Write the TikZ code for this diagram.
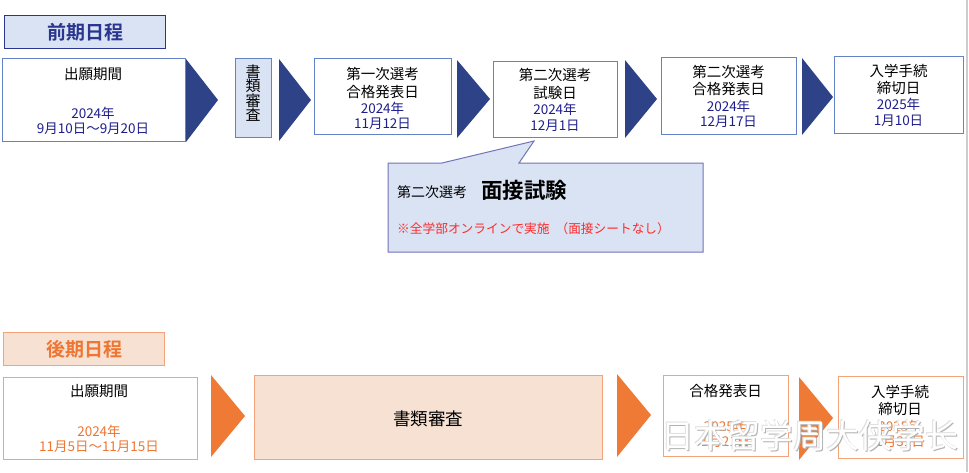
\documentclass[tikz,border=0pt]{standalone}
\usepackage{fontspec}
\setmainfont{Noto Sans CJK JP}[BoldFont={Noto Sans CJK JP Bold}]
\newfontfamily\wmfont{Noto Sans CJK SC}
\definecolor{navytri}{HTML}{2E4287}
\definecolor{boxblue}{HTML}{6383C6}
\definecolor{lightblue}{HTML}{DAE3F3}
\definecolor{hdrnavy}{HTML}{2A3590}
\definecolor{navytext}{HTML}{1E1E8C}
\definecolor{calloutline}{HTML}{7074B8}
\definecolor{redtext}{HTML}{FF2A2A}
\definecolor{orangetri}{HTML}{EF7A36}
\definecolor{boxorange}{HTML}{F4A27A}
\definecolor{peach}{HTML}{F6E1D3}
\definecolor{orangetext}{HTML}{EE7632}
\definecolor{edgegray}{HTML}{CDCDCD}
\tikzset{
  bbox/.style={draw=boxblue, line width=1.1pt, fill=white, inner sep=0pt, anchor=north west},
  obox/.style={draw=boxorange, line width=1.1pt, fill=white, inner sep=0pt, anchor=north west},
  lbl/.style={inner sep=0pt, align=center, font=\fontsize{14.5}{17.5}\selectfont},
  dtn/.style={inner sep=0pt, align=center, text=navytext, font=\fontsize{13.5}{15.5}\selectfont},
  dto/.style={inner sep=0pt, align=center, text=orangetext, font=\fontsize{13.5}{15.5}\selectfont},
  ntri/.style={fill=navytri},
  otri/.style={fill=orangetri},
  wmark/.style={inner sep=0pt, anchor=west, font=\wmfont\fontsize{33}{36}\selectfont},
}
\begin{document}
\begin{tikzpicture}[x=1pt,y=-1pt]
\useasboundingbox (0,0) rectangle (969,472);
\fill[white] (0,0) rectangle (969,472);
\draw[edgegray, line width=1.5pt] (967,0) -- (967,472);

% ===== 前期日程 =====
\node[draw=hdrnavy, line width=1.1pt, fill=lightblue, anchor=north west, minimum width=161pt, minimum height=33pt, inner sep=0pt] (h1) at (4,15) {};
\node[inner sep=0pt, text=hdrnavy, font=\fontsize{19}{22}\selectfont\bfseries] (h1t) at (h1.center) {前期日程};

\node[bbox, minimum width=183pt, minimum height=83pt] (a1) at (2,58) {};
\node[lbl] (a1t) at (93,74) {出願期間};
\node[dtn] (a1d) at (93,121) {2024年\\9月10日～9月20日};
\fill[ntri] (186,59) -- (218,100) -- (186,142) -- cycle;

\node[draw=boxblue, line width=1.1pt, fill=lightblue, anchor=north west, minimum width=36pt, minimum height=79pt, inner sep=0pt] (a2) at (235,58) {};
\node[inner sep=0pt, align=center, font=\fontsize{15}{14.5}\selectfont] (a2t) at (253,93) {書\\類\\審\\査};
\fill[ntri] (279,59) -- (311,100) -- (279,141) -- cycle;

\node[bbox, minimum width=137pt, minimum height=76pt] (a3) at (314,58) {};
\node[lbl] (a3t) at (382.5,83) {第一次選考\\合格発表日};
\node[dtn] (a3d) at (382.5,116) {2024年\\11月12日};
\fill[ntri] (457,60) -- (490,99) -- (457,138) -- cycle;

\node[bbox, minimum width=124pt, minimum height=76pt] (a4) at (493,61) {};
\node[lbl] (a4t) at (555,84) {第二次選考\\試験日};
\node[dtn] (a4d) at (555,117.5) {2024年\\12月1日};
\fill[ntri] (625,60) -- (657,99) -- (625,138) -- cycle;

\node[bbox, minimum width=135pt, minimum height=77pt] (a5) at (661,57) {};
\node[lbl] (a5t) at (728.5,80.5) {第二次選考\\合格発表日};
\node[dtn] (a5d) at (728.5,114) {2024年\\12月17日};
\fill[ntri] (802,58) -- (833,97) -- (802,135) -- cycle;

\node[bbox, minimum width=129pt, minimum height=77pt] (a6) at (834,56) {};
\node[lbl] (a6t) at (898.5,79.5) {入学手続\\締切日};
\node[dtn] (a6d) at (898.5,112.5) {2025年\\1月10日};

% callout
\coordinate (ctip) at (534,141);
\filldraw[fill=lightblue, draw=calloutline, line width=1pt]
  (388,163) -- (442,163) -- (ctip) -- (519,163) -- (703,163) -- (703,252) -- (388,252) -- cycle;
\node[inner sep=0pt, anchor=west, font=\fontsize{14}{16}\selectfont] (c1) at (397,192) {第二次選考};
\node[inner sep=0pt, anchor=west, font=\fontsize{21.5}{24}\selectfont\bfseries] (c2) at (481,190) {面接試験};
\node[inner sep=0pt, anchor=west, text=redtext, font=\fontsize{12.7}{15}\selectfont] (c3) at (397,229) {※全学部オンラインで実施\hspace{6pt}（面接シートなし）};

% ===== 後期日程 =====
\node[draw=boxorange, line width=1.1pt, fill=peach, anchor=north west, minimum width=161pt, minimum height=33pt, inner sep=0pt] (h2) at (3,332) {};
\node[inner sep=0pt, text=orangetext, font=\fontsize{19}{22}\selectfont\bfseries] (h2t) at (h2.center) {後期日程};

\node[obox, minimum width=194pt, minimum height=82pt] (b1) at (3,377) {};
\node[lbl] (b1t) at (99,391) {出願期間};
\node[dto] (b1d) at (99,439) {2024年\\11月5日～11月15日};
\fill[otri] (211,375) -- (245,416) -- (211,457) -- cycle;

\node[draw=boxorange, line width=1.1pt, fill=peach, anchor=north west, minimum width=348pt, minimum height=84pt, inner sep=0pt] (b2) at (254,375) {};
\node[inner sep=0pt, font=\fontsize{17.5}{20}\selectfont] (b2t) at (428,419) {書類審査};
\fill[otri] (617,374) -- (651,415) -- (617,457) -- cycle;

\node[obox, minimum width=125pt, minimum height=81pt] (b3) at (663,375) {};
\node[lbl] (b3t) at (725.5,391) {合格発表日};
\node[dto] (b3d) at (725.5,434) {2025年\\1月21日};
\fill[otri] (799,377) -- (833,418) -- (799,460) -- cycle;

\node[obox, minimum width=125pt, minimum height=82pt] (b4) at (838,376) {};
\node[lbl] (b4t) at (900,400.5) {入学手続\\締切日};
\node[dto] (b4d) at (900,434) {2025年\\1月31日};

% watermark (white letters with a faint grey edge)
\node[wmark, text=black!30] (wm0) at (661.8,436.8) {日本留学周大侠学长};
\node[wmark, text=black!12] (wm1) at (660.2,435.2) {日本留学周大侠学长};
\node[wmark, text=white] (wm) at (661,436) {日本留学周大侠学长};
\end{tikzpicture}
\end{document}
